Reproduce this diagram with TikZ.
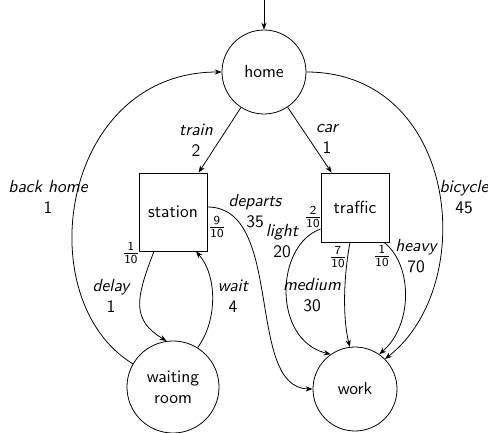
\documentclass[tikz,border=0pt]{standalone}
\usetikzlibrary{arrows.meta}
\begin{document}
\begin{tikzpicture}[x=0.5714pt,y=-0.5714pt,
  font=\sffamily,
  every path/.style={line width=0.45pt},
  edge/.style={draw,-{Stealth[length=4pt,width=3pt]}},
  statec/.style={draw,circle,inner sep=0pt},
  stateb/.style={draw,rectangle,inner sep=0pt},
  lab/.style={align=center,inner sep=0pt},
  frac/.style={inner sep=0pt}]
\useasboundingbox (0,0) rectangle (488,433);
% nodes
\node[statec,minimum size=48pt] (home) at (264,72) {home};
\node[stateb,minimum width=38.9pt,minimum height=44.6pt] (station) at (173,212) {station};
\node[stateb,minimum width=38.9pt,minimum height=39.4pt] (traffic) at (355,207.5) {traffic};
\node[statec,minimum size=52.6pt,align=center] (wr) at (173,387) {waiting\\room};
\node[statec,minimum size=48pt] (work) at (355,389) {work};
\coordinate (start) at (264,0);
% edges
\draw[edge] (start) -- (home);
\draw[edge] (home) -- (station);
\draw[edge] (home) -- (traffic);
\draw[edge] (wr.150) .. controls (28,300) and (60,72) .. (home.west);
\draw[edge] (home.east) .. controls (458,72) and (480,285) .. (work.45);
\draw[edge] (station.south-|154,0) .. controls (135,300) and (132,320) .. (wr.98);
\draw[edge] (wr.58) .. controls (218,320) and (217,275) .. (station.south-|196,0);
\draw[edge] (station.east|-0,207) .. controls (285,207) and (245,388) .. (work.west);
\draw[edge] (traffic.west|-0,229) .. controls (275,245) and (272,340) .. (work.125);
\draw[edge] (traffic.south-|350,0) .. controls (343,280) and (343,320) .. (work.97);
\draw[edge] (traffic.south-|384,0) .. controls (413,265) and (413,325) .. (work.55);
% labels
\node[lab] (ltrain) at (196,140) {{\itshape train}\\2};
\node[lab] (lcar) at (327,139) {{\itshape car}\\1};
\node[lab] (lback) at (48,197) {{\itshape back home}\\1};
\node[lab] (lbike) at (464,197) {{\itshape bicycle}\\45};
\node[lab] (ldep) at (255,211) {{\itshape departs}\\35};
\node[lab] (ldelay) at (111,296) {{\itshape delay}\\1};
\node[lab] (lwait) at (233,296) {{\itshape wait}\\4};
\node[lab] (llight) at (282,241) {{\itshape light}\\20};
\node[lab] (lmed) at (312,295) {{\itshape medium}\\30};
\node[lab] (lheavy) at (416,256) {{\itshape heavy}\\70};
\node[frac] (f1) at (131,253) {$\frac{\mathsf{1}}{\mathsf{10}}$};
\node[frac] (f2) at (217,227) {$\frac{\mathsf{9}}{\mathsf{10}}$};
\node[frac] (f3) at (313,217) {$\frac{\mathsf{2}}{\mathsf{10}}$};
\node[frac] (f4) at (338,257) {$\frac{\mathsf{7}}{\mathsf{10}}$};
\node[frac] (f5) at (382,256) {$\frac{\mathsf{1}}{\mathsf{10}}$};
\end{tikzpicture}
\end{document}
